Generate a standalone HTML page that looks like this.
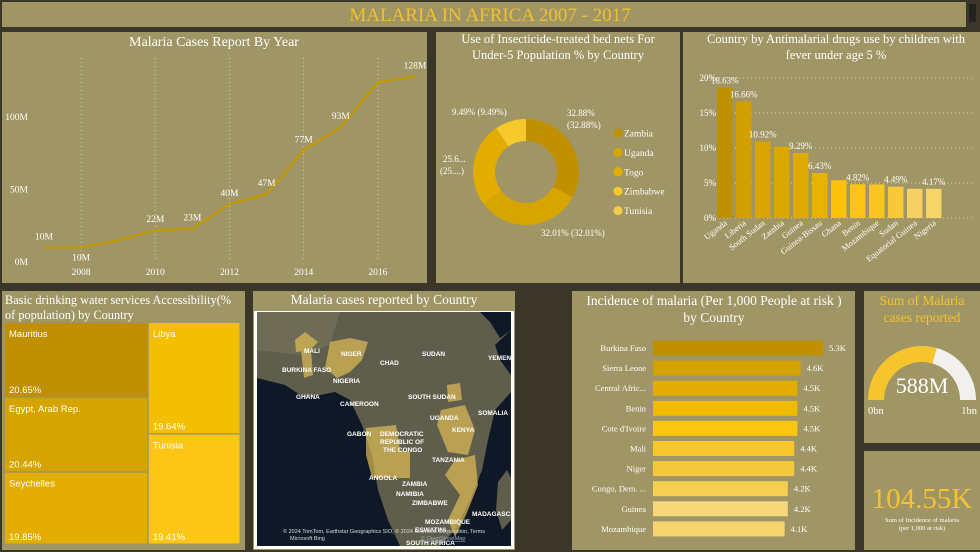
<!DOCTYPE html>
<html><head><meta charset="utf-8"><style>
html,body{margin:0;padding:0;background:#3a3628;}
svg{display:block;font-family:"Liberation Serif",serif;}
</style></head><body>
<svg id="s" width="980" height="552" viewBox="0 0 980 552" xmlns="http://www.w3.org/2000/svg">
<rect x="0" y="0" width="980" height="552" fill="#3a3628"/>
<rect x="2" y="2" width="964" height="25" fill="#a09564"/>
<rect x="969" y="4" width="7" height="18" fill="#222"/>
<text x="490" y="21" text-anchor="middle" font-size="19" fill="#f2c12e">MALARIA IN AFRICA 2007 - 2017</text>

<rect x="2" y="32" width="425" height="251" fill="#a09564"/>
<text x="214" y="46" text-anchor="middle" font-size="14" fill="#fff">Malaria Cases Report By Year</text>
<g id="line"></g>

<rect x="436" y="32" width="244" height="251" fill="#a09564"/>
<text x="558" y="43" text-anchor="middle" font-size="12.5" fill="#fff">Use of Insecticide-treated bed nets For</text>
<text x="558" y="59" text-anchor="middle" font-size="12.5" fill="#fff">Under-5 Population % by Country</text>
<g id="donut"></g>

<rect x="683" y="32" width="297" height="251" fill="#a09564"/>
<text x="836" y="43" text-anchor="middle" font-size="12.5" fill="#fff">Country by Antimalarial drugs use by children with</text>
<text x="836" y="59" text-anchor="middle" font-size="12.5" fill="#fff">fever under age 5 %</text>
<g id="drugs"></g>

<rect x="2" y="291" width="243" height="259" fill="#a09564"/>
<text x="5" y="304" font-size="12.3" fill="#fff">Basic drinking water services Accessibility(%</text>
<text x="5" y="319" font-size="12.3" fill="#fff">of population) by Country</text>
<g id="tree" font-family="'Liberation Sans',sans-serif"></g>

<rect x="253" y="291" width="262" height="259" fill="#a09564"/>
<text x="384" y="304" text-anchor="middle" font-size="13.5" fill="#fff">Malaria cases reported by Country</text>
<rect x="254" y="311" width="260" height="238" fill="#fff"/>
<g>
<svg x="257" y="312" width="254" height="234" viewBox="257 312 254 234">
<rect x="257" y="312" width="254" height="234" fill="#0e1826"/>
<path d="M257 312 L511 312 L511 330 L495 345 L500 360 L511 375 L511 392 L495 410 L488 440 L482 470 L470 500 L455 530 L440 546 L400 546 L388 520 L378 490 L372 455 L362 425 L350 400 L335 392 L305 398 L285 385 L257 378 Z" fill="#5f5e4c"/>
<path d="M480 312 L511 312 L511 330 L500 338 L490 322 Z" fill="#0e1826"/>
<path d="M498 482 L507 470 L511 478 L511 520 L502 530 L496 510 Z" fill="#5f5e4c"/>
<path d="M257 312 L340 312 L330 345 L300 355 L257 350 Z" fill="#7d7a60" opacity="0.5"/>
<g fill="#e0bd55" opacity="0.7">
<path d="M295 340 L305 332 L318 342 L310 350 L296 352 Z"/>
<path d="M301 350 L311 350 L313 375 L304 378 Z"/>
<path d="M330 342 L350 338 L368 342 L362 360 L350 372 L337 378 L325 368 Z"/>
<path d="M447 385 L460 383 L462 400 L448 402 Z"/>
<path d="M441 410 L465 405 L475 430 L468 455 L448 452 L437 425 Z"/>
<path d="M366 428 L396 425 L400 450 L410 452 L410 478 L372 478 L366 455 Z"/>
<path d="M455 460 L475 455 L478 485 L466 515 L455 537 L448 520 L460 495 L445 475 Z"/>
</g>
<g fill="#fff" font-family="'Liberation Sans',sans-serif" font-size="6.5" font-weight="bold">
<text x="304" y="353">MALI</text><text x="341" y="356">NIGER</text><text x="422" y="356">SUDAN</text><text x="380" y="365">CHAD</text><text x="488" y="360">YEMEN</text>
<text x="282" y="372">BURKINA FASO</text><text x="333" y="383">NIGERIA</text><text x="296" y="399">GHANA</text><text x="340" y="406">CAMEROON</text>
<text x="408" y="399">SOUTH SUDAN</text><text x="478" y="415">SOMALIA</text><text x="430" y="420">UGANDA</text><text x="452" y="432">KENYA</text>
<text x="347" y="436">GABON</text><text x="380" y="436">DEMOCRATIC</text><text x="380" y="444">REPUBLIC OF</text><text x="383" y="452">THE CONGO</text>
<text x="432" y="462">TANZANIA</text><text x="369" y="480">ANGOLA</text><text x="402" y="486">ZAMBIA</text><text x="412" y="505">ZIMBABWE</text>
<text x="472" y="516">MADAGASCAR</text><text x="396" y="496">NAMIBIA</text>
<text x="425" y="524">MOZAMBIQUE</text><text x="415" y="532">ESWATINI</text><text x="406" y="545">SOUTH AFRICA</text>
</g>
<text x="283" y="533" font-family="'Liberation Sans',sans-serif" font-size="5.5" fill="#ddd">© 2024 TomTom, Earthstar Geographics SIO, © 2024 Microsoft Corporation,  Terms</text>
<text x="290" y="540" font-family="'Liberation Sans',sans-serif" font-size="5.5" fill="#ddd">Microsoft Bing</text>
<text x="421" y="540" font-family="'Liberation Sans',sans-serif" font-size="5.5" fill="#9ab" text-decoration="underline">© OpenStreetMap</text>
</svg>
</g>

<rect x="572" y="291" width="283" height="259" fill="#a09564"/>
<text x="714" y="305" text-anchor="middle" font-size="13.5" fill="#fff">Incidence of malaria (Per 1,000 People at risk )</text>
<text x="714" y="322" text-anchor="middle" font-size="13.5" fill="#fff">by Country</text>
<g id="inc"></g>

<rect x="864" y="291" width="116" height="152" fill="#a09564"/>
<text x="922" y="305" text-anchor="middle" font-size="13.5" fill="#f5c330">Sum of Malaria</text>
<text x="922" y="322" text-anchor="middle" font-size="13.5" fill="#f5c330">cases reported</text>
<g id="gauge"></g>

<rect x="864" y="451" width="116" height="99" fill="#a09564"/>
<text x="922" y="508" text-anchor="middle" font-size="29" fill="#f5c330">104.55K</text>
<text x="922" y="522" text-anchor="middle" font-size="6.5" fill="#fff">Sum of Incidence of malaria</text>
<text x="922" y="530" text-anchor="middle" font-size="6.5" fill="#fff">(per 1,000 at risk)</text>
</svg>
<script>
const NS="http://www.w3.org/2000/svg";
function mk(tag,a,p){const e=document.createElementNS(NS,tag);for(const k in a)e.setAttribute(k,a[k]);p.appendChild(e);return e;}

// ---- line chart data
const years=[2007,2008,2009,2010,2011,2012,2013,2014,2015,2016,2017];
const cases=[10,10,15,22,23,40,47,77,93,124,128];
const caseLabels=["10M","10M","","22M","23M","40M","47M","77M","93M","","128M"];
const yTicks=[0,50,100];
const xTickYears=[2008,2010,2012,2014,2016];

// ---- donut data
const netCountries=["Zambia","Uganda","Togo","Zimbabwe","Tunisia"];
const netValues=[32.88,32.01,25.6,9.49,0.02];
const netColors=["#c09000","#d7a500","#e3ad00","#f6c92c","#f3cb4c"];

// ---- drugs bar data
const drugCountries=["Uganda","Liberia","South Sudan","Zambia","Guinea","Guinea-Bissau","Ghana","Benin","Mozambique","Sudan","Equatorial Guinea","Nigeria"];
const drugValues=[18.63,16.66,10.92,10.2,9.29,6.43,5.4,4.82,4.8,4.49,4.17,4.17];
const drugLabels=["18.63%","16.66%","10.92%","","9.29%","6.43%","","4.82%","","4.49%","","4.17%"];
const drugTicks=[0,5,10,15,20];
const drugColors=["#bf9000","#d2a000","#d8a400","#dca800","#e0ab00","#e7b200","#fbc20c","#fdc414","#fbc520","#f6c83a","#f6d064","#f6d468"];

// ---- treemap data
const waterCountries=["Mauritius","Egypt, Arab Rep.","Seychelles","Libya","Tunisia"];
const waterValues=[20.65,20.44,19.85,19.64,19.41];
const waterColors=["#c09000","#d6a400","#e4ae00","#f4bf00","#fdc615"];

// ---- incidence data
const incCountries=["Burkina Faso","Sierra Leone","Central Afric...","Benin","Cote d'Ivoire","Mali","Niger","Congo, Dem. ...","Guinea","Mozambique"];
const incValues=[5.3,4.6,4.5,4.5,4.5,4.4,4.4,4.2,4.2,4.1];
const incColors=["#bf9000","#d3a200","#e2ad00","#f1bb00","#fdc612","#f8c52c","#f6c83c","#f6cf50","#f6d878","#f6d66c"];

// ---- gauge data
const gaugeValue=588, gaugeMax=1000;

// LINE
(function(){
 const g=document.getElementById('line');
 const x=y=>44+(y-2007)*37.1, y=v=>262-v*1.45;
 xTickYears.forEach(yr=>{
  const l=mk('line',{x1:x(yr),x2:x(yr),y1:58,y2:262,stroke:"#d8d0a8","stroke-dasharray":"1,3","stroke-width":1},g);
  
  
  const t=mk('text',{x:x(yr),y:275,"text-anchor":"middle","font-size":9.5,fill:"#fff"},g);t.textContent=yr;
  
  
 });
 yTicks.forEach(v=>{
  const t=mk('text',{x:28,y:y(v)+3,"text-anchor":"end","font-size":9.5,fill:"#fff"},g);t.textContent=v+"M";
  
  
 });
 const p=mk('polyline',{points:years.map((yr,i)=>x(yr)+","+y(cases[i])).join(" "),fill:"none",stroke:"#c49a00","stroke-width":2.2},g);
 
 
 years.forEach((yr,i)=>{
  if(!caseLabels[i])return;
  const below=(i===1);
  const t=mk('text',{x:x(yr),y:below?y(cases[i])+13:y(cases[i])-8,"text-anchor":"middle","font-size":9.5,fill:"#fff"},g);
  t.textContent=caseLabels[i];
  
  
 });
})();

// DONUT
(function(){
 const g=document.getElementById('donut');
 const cx=526,cy=172,R=53,r=31;
 const tot=netValues.reduce((a,b)=>a+b,0);
 let a0=-Math.PI/2;
 netValues.forEach((v,i)=>{
  const a1=a0+v/tot*2*Math.PI, la=(a1-a0)>Math.PI?1:0;
  const P=(rad,a)=>(cx+rad*Math.cos(a)).toFixed(2)+" "+(cy+rad*Math.sin(a)).toFixed(2);
  const d="M"+P(R,a0)+" A"+R+" "+R+" 0 "+la+" 1 "+P(R,a1)+" L"+P(r,a1)+" A"+r+" "+r+" 0 "+la+" 0 "+P(r,a0)+"Z";
  const s=mk('path',{d:d,fill:netColors[i]},g);
  
  
  a0=a1;
 });
 const labs=[["32.88%",567,116],["(32.88%)",567,128],["32.01% (32.01%)",541,236],["25.6...",443,162],["(25....)",440,174],["9.49% (9.49%)",452,115]];
 labs.forEach(l=>{const t=mk('text',{x:l[1],y:l[2],"font-size":9,fill:"#fff"},g);t.textContent=l[0];
  
  });
 netCountries.forEach((c,i)=>{
  const yy=133+i*19.4;
  const d=mk('circle',{cx:618,cy:yy,r:4.5,fill:netColors[i]},g);
  
  
  const t=mk('text',{x:624,y:yy+3.5,"font-size":9.5,fill:"#fff"},g);t.textContent=c;
  
  
 });
})();

// DRUGS
(function(){
 const g=document.getElementById('drugs');
 const y=v=>218-v*7.0, bx=i=>717+i*19.0, bw=15.5;
 drugTicks.forEach(v=>{
  const l=mk('line',{x1:707,x2:975,y1:y(v),y2:y(v),stroke:"#d8d0a8","stroke-dasharray":"1,3"},g);
  
  
  const t=mk('text',{x:716,y:y(v)+3,"text-anchor":"end","font-size":9,fill:"#fff"},g);t.textContent=v+"%";
  
  
 });
 drugValues.forEach((v,i)=>{
  const b=mk('rect',{x:bx(i),y:y(v),width:bw,height:v*7.0,fill:drugColors[i]},g);
  
  
  if(drugLabels[i]){const t=mk('text',{x:bx(i)+bw/2,y:y(v)-4,"text-anchor":"middle","font-size":9,fill:"#fff"},g);t.textContent=drugLabels[i];
   
   }
  const cxp=bx(i)+bw/2+3, cyp=224;
  const t2=mk('text',{x:cxp,y:cyp,"text-anchor":"end","font-size":8.5,fill:"#fff",transform:"rotate(-38 "+cxp+" "+cyp+")"},g);t2.textContent=drugCountries[i];
  
  
 });
})();

// TREEMAP
(function(){
 const g=document.getElementById('tree');
 const X0=5,Y0=323,W=236,H=222;
 const tot=waterValues.reduce((a,b)=>a+b,0);
 const left=waterValues.slice(0,3).reduce((a,b)=>a+b,0);
 const lw=W*left/tot;
 function col(idx,x,w){const s=idx.reduce((a,k)=>a+waterValues[k],0);let yy=Y0;
  idx.forEach(k=>{const h=H*waterValues[k]/s;
   const r=mk('rect',{x:x,y:yy,width:w-1.5,height:h-1.5,fill:waterColors[k]},g);
   
   
   const t=mk('text',{x:x+4,y:yy+14,"font-size":9.5,fill:"#fff"},g);t.textContent=waterCountries[k];
   
   
   const t2=mk('text',{x:x+4,y:yy+h-5,"font-size":9.5,fill:"#fff"},g);t2.textContent=waterValues[k].toFixed(2)+"%";
   
   
   yy+=h;});}
 col([0,1,2],X0,lw); col([3,4],X0+lw,W-lw);
})();

// INCIDENCE
(function(){
 const g=document.getElementById('inc');
 const x0=653,k=32.1,yc=i=>348+i*20.1,bh=15;
 incValues.forEach((v,i)=>{
  const t=mk('text',{x:646,y:yc(i)+3,"text-anchor":"end","font-size":8.5,fill:"#fff"},g);t.textContent=incCountries[i];
  
  
  const b=mk('rect',{x:x0,y:yc(i)-bh/2,width:v*k,height:bh,fill:incColors[i]},g);
  
  
  const t2=mk('text',{x:x0+v*k+6,y:yc(i)+3,"font-size":8.5,fill:"#fff"},g);t2.textContent=v.toFixed(1)+"K";
  
  
 });
})();

// GAUGE
(function(){
 const g=document.getElementById('gauge');
 const cx=922,cy=400,R=54,r=38;
 function arc(f0,f1,fill,name){
  const a0=Math.PI+f0*Math.PI,a1=Math.PI+f1*Math.PI;
  const P=(rad,a)=>(cx+rad*Math.cos(a)).toFixed(2)+" "+(cy+rad*Math.sin(a)).toFixed(2);
  const d="M"+P(R,a0)+" A"+R+" "+R+" 0 0 1 "+P(R,a1)+" L"+P(r,a1)+" A"+r+" "+r+" 0 0 0 "+P(r,a0)+"Z";
  const p=mk('path',{d:d,fill:fill},g);
  
  
 }
 const f=gaugeValue/gaugeMax;
 arc(0,f,"#f6c42c","gauge-fill");
 arc(f,1,"#f2f0ec","gauge-track");
 const t=mk('text',{x:cx,y:cy-7,"text-anchor":"middle","font-size":22,fill:"#fff"},g);t.textContent=gaugeValue+"M";
 
 
 const a=mk('text',{x:868,y:414,"font-size":10.5,fill:"#fff"},g);a.textContent="0bn";
 
 
 const b=mk('text',{x:977,y:414,"text-anchor":"end","font-size":10.5,fill:"#fff"},g);b.textContent="1bn";
 
 
})();
</script>
</body></html>
